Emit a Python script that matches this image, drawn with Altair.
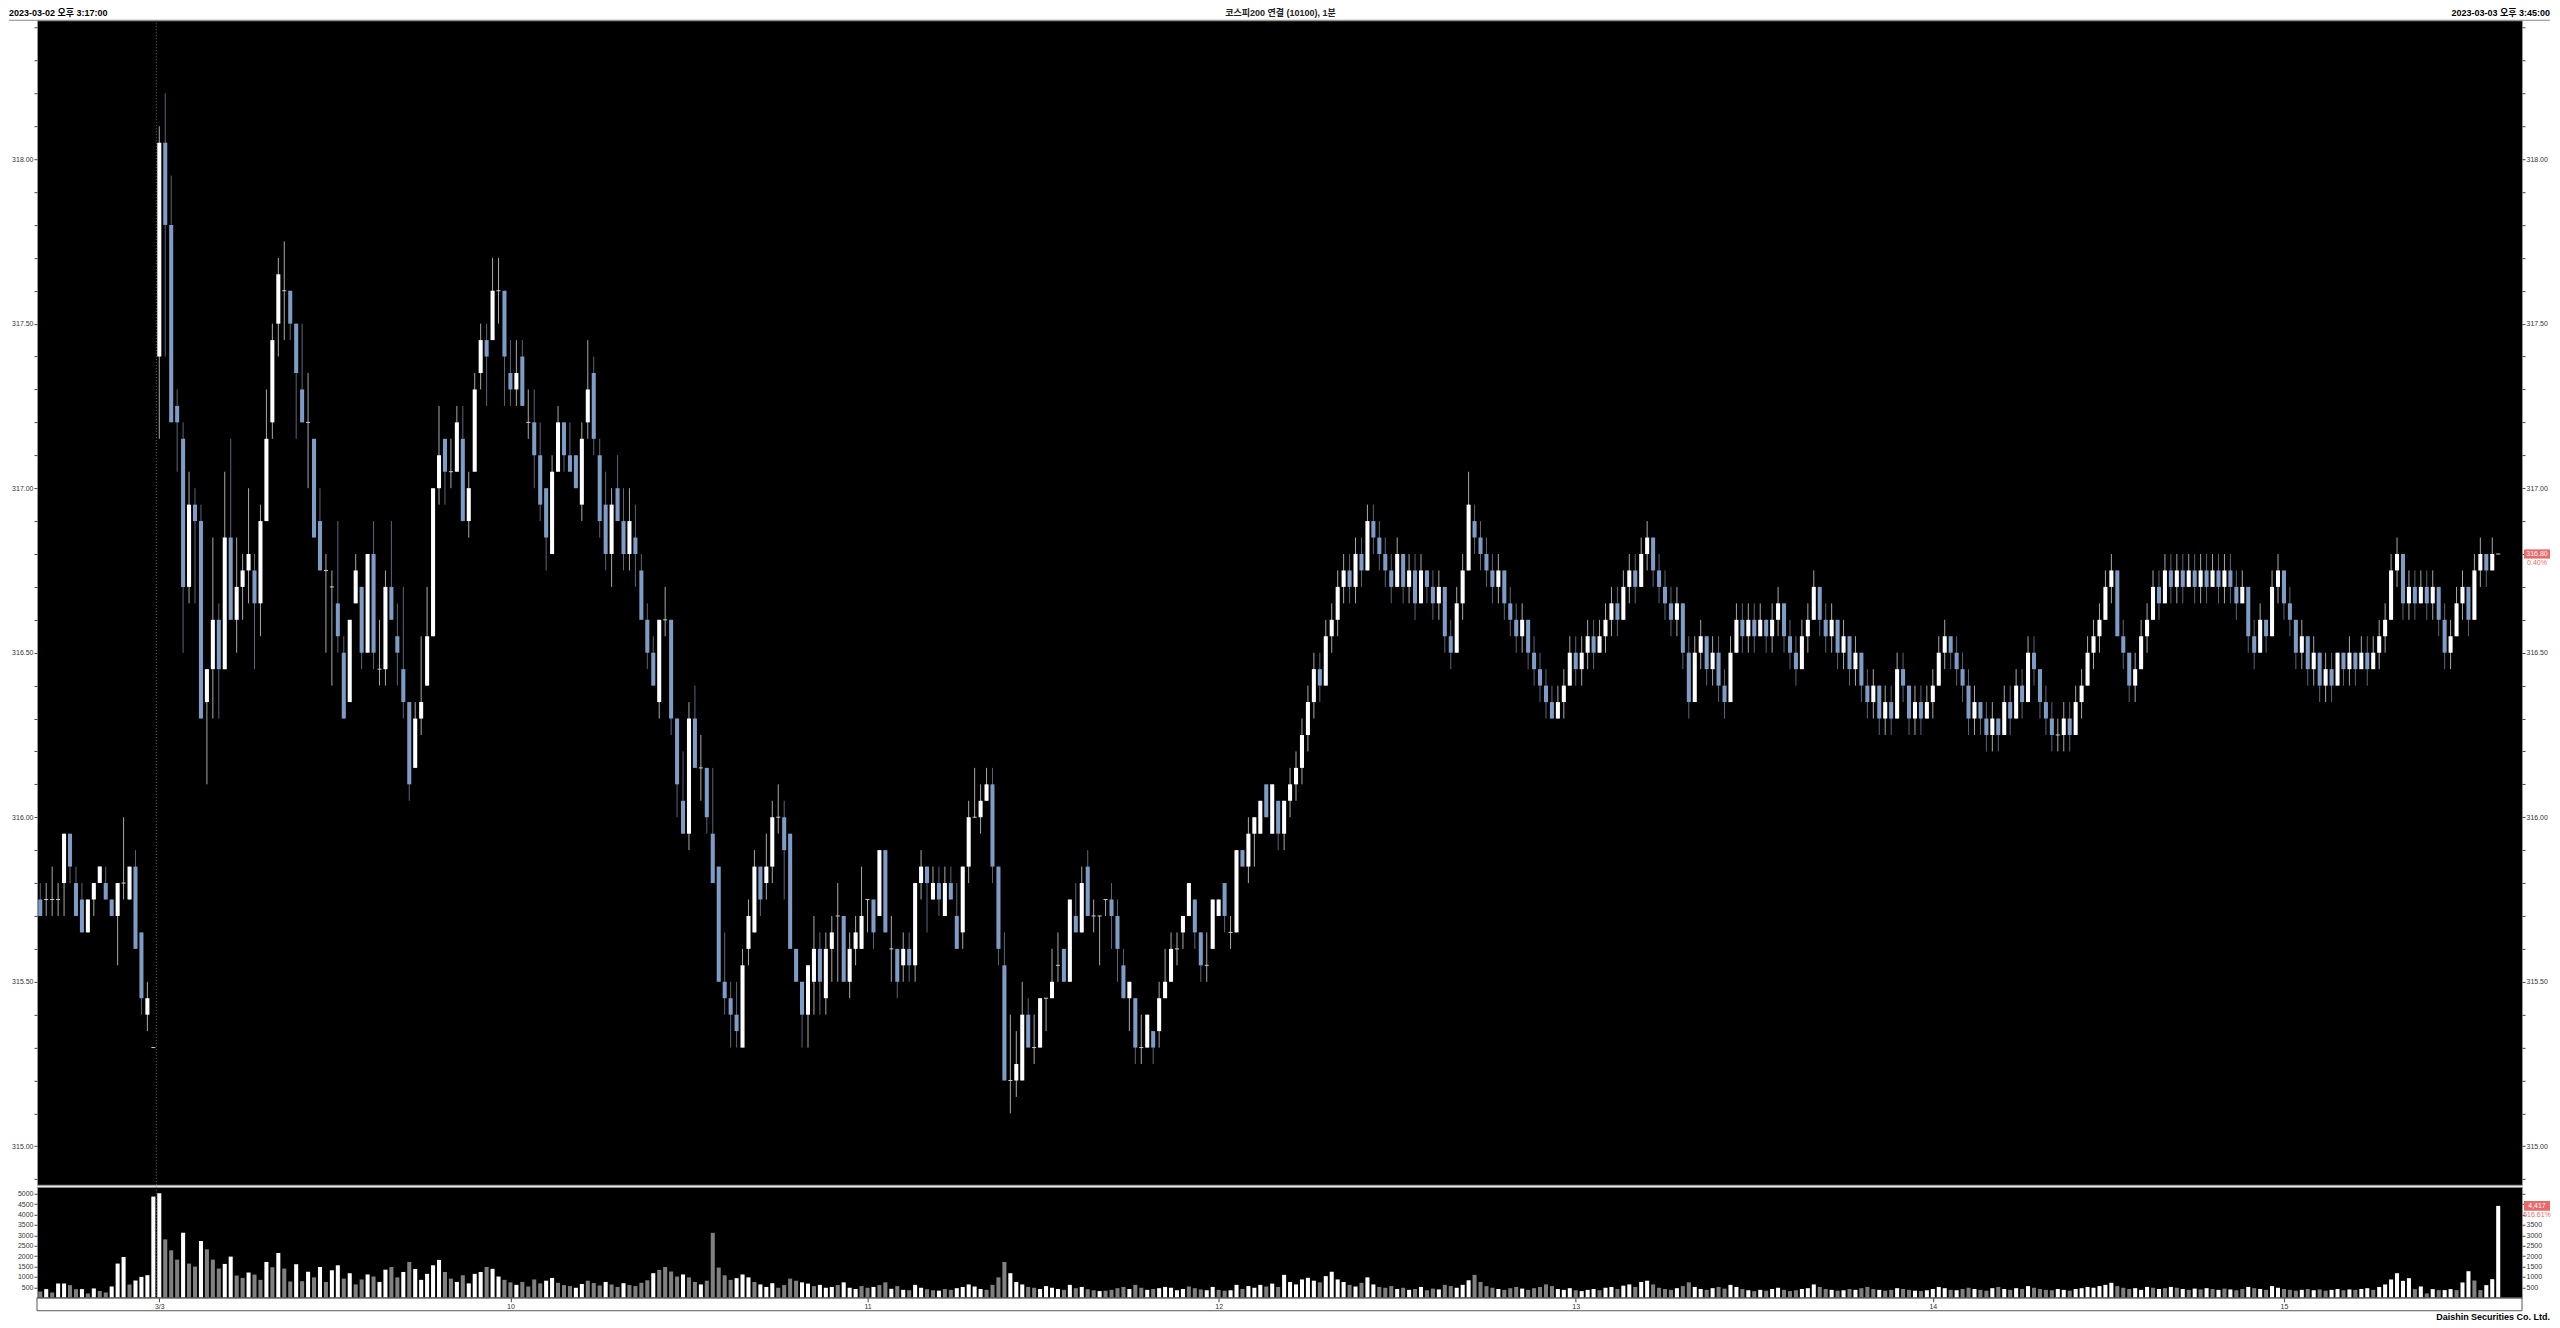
import altair as alt
import pandas as pd
import numpy as np

# ---------------- data ----------------
# bars 0..209 : open / high / low / close
opens = [
 315.75,315.75,315.75,315.75,315.80,315.95,315.80,315.75,315.65,315.75,
 315.80,315.80,315.75,315.70,315.80,315.75,315.85,315.65,315.40,315.30,
 317.40,318.05,317.80,317.25,317.15,316.70,316.95,316.90,316.35,316.45,
 316.60,316.45,316.85,316.60,316.70,316.75,316.75,316.65,316.90,317.20,
 317.50,317.60,317.60,317.50,317.30,317.20,317.15,316.90,316.75,316.70,
 316.65,316.50,316.35,316.65,316.70,316.50,316.80,316.45,316.45,316.70,
 316.55,316.45,316.35,316.15,316.30,316.40,316.55,317.00,317.15,317.05,
 317.05,317.15,316.90,317.05,317.35,317.45,317.45,317.60,317.60,317.35,
 317.30,317.40,317.20,317.20,317.10,317.00,316.80,317.05,317.20,317.10,
 317.10,316.95,317.20,317.35,317.10,316.95,316.80,317.00,316.90,316.80,
 316.85,316.75,316.60,316.50,316.35,316.60,316.60,316.30,316.05,315.95,
 316.30,316.15,316.15,315.95,315.85,315.50,315.45,315.40,315.30,315.60,
 315.65,315.85,315.80,315.85,316.00,316.00,315.95,315.60,315.50,315.40,
 315.50,315.60,315.45,315.60,315.70,315.70,315.50,315.60,315.60,315.75,
 315.75,315.70,315.90,315.60,315.60,315.55,315.60,315.55,315.80,315.85,
 315.75,315.80,315.70,315.80,315.70,315.65,315.85,316.00,316.00,316.05,
 316.10,315.85,315.55,315.20,315.20,315.20,315.40,315.30,315.30,315.45,
 315.45,315.55,315.60,315.50,315.70,315.65,315.85,315.70,315.70,315.75,
 315.75,315.70,315.55,315.45,315.45,315.30,315.30,315.35,315.35,315.45,
 315.50,315.60,315.65,315.70,315.75,315.65,315.55,315.60,315.70,315.80,
 315.65,315.65,315.90,315.85,315.95,315.95,316.10,315.95,316.05,315.95,
]
highs = [
 315.80,315.80,315.85,315.80,315.95,315.95,315.85,315.80,315.75,315.80,
 315.85,315.85,315.75,315.80,316.00,315.85,315.90,315.65,315.50,315.30,
 318.10,318.20,317.95,317.30,317.20,317.05,317.00,316.95,316.45,316.85,
 316.65,317.05,317.15,316.85,316.80,317.00,316.80,316.95,317.30,317.50,
 317.70,317.75,317.60,317.50,317.50,317.35,317.15,317.00,316.80,316.75,
 316.90,316.55,316.60,316.80,316.70,316.80,316.90,316.60,316.75,316.90,
 316.65,316.70,316.35,316.35,316.55,316.70,317.00,317.25,317.15,317.15,
 317.25,317.25,317.05,317.35,317.50,317.50,317.70,317.70,317.60,317.45,
 317.45,317.45,317.30,317.30,317.20,317.00,317.10,317.25,317.20,317.20,
 317.10,317.20,317.45,317.40,317.15,317.05,317.00,317.10,317.00,317.00,
 316.95,316.80,316.65,316.55,316.60,316.70,316.60,316.30,316.20,316.35,
 316.40,316.25,316.15,316.15,315.85,315.65,315.50,315.50,315.60,315.75,
 315.90,315.85,315.95,316.05,316.10,316.05,315.95,315.60,315.50,315.55,
 315.70,315.65,315.65,315.70,315.80,315.70,315.65,315.70,315.85,315.75,
 315.75,315.90,315.90,315.70,315.60,315.65,315.65,315.80,315.90,315.85,
 315.85,315.85,315.85,315.85,315.80,315.85,316.05,316.15,316.10,316.15,
 316.15,315.85,315.65,315.40,315.35,315.50,315.45,315.40,315.45,315.45,
 315.60,315.65,315.60,315.75,315.80,315.85,315.90,315.75,315.70,315.75,
 315.80,315.75,315.60,315.50,315.45,315.40,315.40,315.35,315.50,315.60,
 315.65,315.65,315.70,315.80,315.75,315.65,315.65,315.75,315.75,315.80,
 315.70,315.90,315.90,316.00,316.00,316.05,316.10,316.10,316.05,316.05,
]
lows = [
 315.70,315.70,315.70,315.70,315.70,315.80,315.70,315.65,315.65,315.70,
 315.80,315.75,315.70,315.55,315.75,315.75,315.60,315.40,315.35,315.30,
 317.15,317.40,317.20,317.05,316.50,316.65,316.65,316.30,316.10,316.30,
 316.30,316.45,316.60,316.50,316.60,316.65,316.45,316.55,316.90,317.15,
 317.40,317.45,317.45,317.15,317.20,317.00,316.85,316.75,316.50,316.40,
 316.50,316.30,316.35,316.65,316.45,316.50,316.45,316.40,316.40,316.60,
 316.40,316.30,316.05,316.15,316.25,316.40,316.55,316.95,316.95,317.00,
 317.05,316.90,316.85,317.05,317.30,317.25,317.45,317.50,317.25,317.25,
 317.25,317.25,317.15,317.00,316.90,316.75,316.80,317.05,317.05,317.05,
 317.00,316.90,317.15,317.10,316.85,316.75,316.70,316.90,316.75,316.75,
 316.70,316.60,316.45,316.40,316.30,316.55,316.25,316.00,315.95,315.90,
 316.15,316.05,315.95,315.80,315.50,315.40,315.30,315.30,315.30,315.55,
 315.65,315.70,315.75,315.80,315.95,315.75,315.60,315.50,315.30,315.30,
 315.40,315.40,315.40,315.50,315.50,315.50,315.45,315.55,315.60,315.65,
 315.60,315.70,315.65,315.50,315.45,315.50,315.50,315.50,315.75,315.65,
 315.75,315.70,315.70,315.75,315.60,315.60,315.80,316.00,315.95,316.05,
 315.80,315.55,315.20,315.10,315.15,315.20,315.30,315.25,315.30,315.35,
 315.45,315.50,315.50,315.50,315.65,315.65,315.70,315.65,315.55,315.70,
 315.60,315.50,315.45,315.35,315.25,315.25,315.30,315.25,315.30,315.45,
 315.50,315.55,315.60,315.70,315.60,315.50,315.50,315.60,315.70,315.65,
 315.60,315.65,315.85,315.80,315.85,315.95,316.00,315.95,315.90,315.90,
]
closes = [
 315.70,315.75,315.75,315.75,315.95,315.85,315.70,315.65,315.75,315.80,
 315.85,315.75,315.70,315.80,315.80,315.85,315.60,315.45,315.45,315.30,
 318.05,317.80,317.20,317.20,316.70,316.95,316.90,316.30,316.45,316.60,
 316.45,316.85,316.60,316.70,316.75,316.80,316.65,316.90,317.15,317.45,
 317.65,317.60,317.50,317.35,317.20,317.20,316.85,316.75,316.75,316.70,
 316.55,316.30,316.60,316.75,316.50,316.80,316.50,316.45,316.70,316.60,
 316.50,316.35,316.10,316.30,316.35,316.55,317.00,317.10,317.05,317.05,
 317.20,316.90,317.00,317.30,317.45,317.40,317.60,317.60,317.40,317.30,
 317.35,317.25,317.20,317.10,316.95,316.85,317.05,317.20,317.10,317.05,
 317.00,317.15,317.30,317.15,316.90,316.80,316.95,316.90,316.80,316.90,
 316.80,316.60,316.50,316.40,316.60,316.60,316.30,316.10,315.95,316.30,
 316.15,316.15,316.00,315.80,315.50,315.45,315.40,315.35,315.55,315.70,
 315.85,315.75,315.85,316.00,316.00,315.90,315.60,315.50,315.40,315.55,
 315.60,315.50,315.60,315.65,315.70,315.50,315.60,315.65,315.70,315.75,
 315.65,315.90,315.65,315.60,315.50,315.60,315.55,315.80,315.85,315.80,
 315.80,315.75,315.80,315.75,315.60,315.85,316.00,316.00,316.05,316.10,
 315.85,315.60,315.20,315.20,315.25,315.40,315.30,315.30,315.45,315.45,
 315.50,315.55,315.50,315.75,315.65,315.80,315.70,315.70,315.70,315.75,
 315.70,315.60,315.45,315.50,315.30,315.30,315.40,315.30,315.45,315.50,
 315.60,315.60,315.70,315.80,315.65,315.55,315.55,315.75,315.75,315.70,
 315.65,315.90,315.85,315.95,316.00,316.05,316.00,316.10,315.95,316.05,
]
# bars 210..413 (afternoon) : (open, high, low, close)
late_bars = [
 (316.05,316.15,316.00,316.10),(316.10,316.20,316.05,316.15),(316.15,316.30,316.10,316.25),
 (316.25,316.40,316.20,316.35),(316.35,316.50,316.30,316.45),(316.45,316.50,316.35,316.40),
 (316.40,316.60,316.40,316.55),(316.55,316.65,316.50,316.60),(316.60,316.75,316.55,316.70),
 (316.70,316.80,316.65,316.75),(316.75,316.80,316.65,316.70),(316.70,316.85,316.65,316.80),
 (316.80,316.85,316.70,316.75),(316.75,316.95,316.75,316.90),(316.90,316.95,316.80,316.85),
 (316.85,316.90,316.75,316.80),(316.80,316.85,316.70,316.75),(316.75,316.80,316.65,316.70),
 (316.70,316.85,316.70,316.80),(316.80,316.80,316.65,316.70),(316.70,316.80,316.65,316.75),
 (316.75,316.80,316.60,316.65),(316.65,316.80,316.65,316.75),(316.75,316.75,316.65,316.70),
 (316.70,316.75,316.60,316.65),(316.65,316.75,316.60,316.70),(316.70,316.70,316.50,316.55),
 (316.55,316.60,316.45,316.50),(316.50,316.70,316.50,316.65),(316.65,316.80,316.60,316.75),
 (316.75,317.05,316.75,316.95),(316.90,316.95,316.80,316.85),(316.85,316.90,316.75,316.80),
 (316.80,316.85,316.70,316.75),(316.75,316.80,316.65,316.70),(316.70,316.80,316.65,316.75),
 (316.75,316.75,316.60,316.65),(316.65,316.70,316.55,316.60),(316.60,316.65,316.50,316.55),
 (316.55,316.65,316.50,316.60),(316.60,316.60,316.45,316.50),(316.50,316.55,316.40,316.45),
 (316.45,316.50,316.35,316.40),(316.40,316.45,316.30,316.35),(316.35,316.40,316.30,316.30),
 (316.30,316.40,316.30,316.35),(316.35,316.45,316.30,316.40),(316.40,316.55,316.40,316.50),
 (316.50,316.55,316.40,316.45),(316.45,316.55,316.40,316.50),(316.50,316.60,316.45,316.55),
 (316.55,316.60,316.45,316.50),(316.50,316.60,316.50,316.55),(316.55,316.65,316.50,316.60),
 (316.60,316.70,316.55,316.65),(316.65,316.70,316.55,316.60),(316.60,316.75,316.60,316.70),
 (316.70,316.80,316.65,316.75),(316.75,316.80,316.65,316.70),(316.70,316.85,316.70,316.80),
 (316.80,316.90,316.75,316.85),(316.85,316.85,316.70,316.75),(316.75,316.80,316.65,316.70),
 (316.70,316.75,316.60,316.65),(316.65,316.70,316.55,316.60),(316.60,316.70,316.55,316.65),
 (316.65,316.65,316.45,316.50),(316.50,316.55,316.30,316.35),(316.35,316.55,316.35,316.50),
 (316.50,316.60,316.45,316.55),(316.55,316.55,316.40,316.45),(316.45,316.55,316.40,316.50),
 (316.50,316.55,316.35,316.40),(316.40,316.45,316.30,316.35),(316.35,316.55,316.35,316.50),
 (316.50,316.65,316.50,316.60),(316.60,316.65,316.50,316.55),(316.55,316.65,316.50,316.60),
 (316.60,316.65,316.50,316.55),(316.55,316.65,316.55,316.60),(316.60,316.60,316.50,316.55),
 (316.55,316.65,316.50,316.60),(316.60,316.70,316.55,316.65),(316.65,316.65,316.50,316.55),
 (316.55,316.60,316.45,316.50),(316.50,316.55,316.40,316.45),(316.45,316.60,316.45,316.55),
 (316.55,316.65,316.50,316.60),(316.60,316.75,316.60,316.70),(316.70,316.70,316.55,316.60),
 (316.60,316.65,316.50,316.55),(316.55,316.65,316.50,316.60),(316.60,316.60,316.45,316.50),
 (316.50,316.60,316.45,316.55),(316.55,316.55,316.40,316.45),(316.45,316.55,316.40,316.50),
 (316.50,316.50,316.35,316.40),(316.40,316.45,316.30,316.35),(316.35,316.45,316.30,316.40),
 (316.40,316.40,316.25,316.30),(316.30,316.40,316.25,316.35),(316.35,316.40,316.25,316.30),
 (316.30,316.50,316.30,316.45),(316.45,316.50,316.35,316.40),(316.40,316.40,316.25,316.30),
 (316.30,316.40,316.25,316.35),(316.35,316.40,316.25,316.30),(316.30,316.40,316.30,316.35),
 (316.35,316.45,316.30,316.40),(316.40,316.55,316.40,316.50),(316.50,316.60,316.45,316.55),
 (316.55,316.55,316.45,316.50),(316.50,316.55,316.40,316.45),(316.45,316.50,316.35,316.40),
 (316.40,316.45,316.25,316.30),(316.30,316.40,316.25,316.35),(316.35,316.35,316.25,316.30),
 (316.30,316.35,316.20,316.25),(316.25,316.35,316.20,316.30),(316.30,316.30,316.20,316.25),
 (316.25,316.40,316.25,316.35),(316.35,316.40,316.25,316.30),(316.30,316.45,316.30,316.40),
 (316.40,316.45,316.30,316.35),(316.35,316.55,316.35,316.50),(316.50,316.55,316.40,316.45),
 (316.45,316.45,316.30,316.35),(316.35,316.40,316.25,316.30),(316.30,316.35,316.20,316.25),
 (316.25,316.30,316.20,316.25),(316.25,316.35,316.20,316.30),(316.30,316.35,316.20,316.25),
 (316.25,316.40,316.25,316.35),(316.35,316.45,316.30,316.40),(316.40,316.55,316.40,316.50),
 (316.50,316.60,316.45,316.55),(316.55,316.65,316.50,316.60),(316.60,316.75,316.60,316.70),
 (316.70,316.80,316.65,316.75),(316.75,316.75,316.55,316.55),(316.55,316.60,316.45,316.50),
 (316.50,316.50,316.35,316.40),(316.40,316.50,316.35,316.45),(316.45,316.60,316.45,316.55),
 (316.55,316.65,316.50,316.60),(316.60,316.75,316.60,316.70),(316.70,316.75,316.60,316.65),
 (316.65,316.80,316.65,316.75),(316.75,316.80,316.65,316.70),(316.70,316.80,316.65,316.75),
 (316.75,316.80,316.65,316.70),(316.70,316.80,316.70,316.75),(316.75,316.80,316.65,316.70),
 (316.70,316.80,316.65,316.75),(316.75,316.80,316.65,316.70),(316.70,316.80,316.70,316.75),
 (316.75,316.80,316.65,316.70),(316.70,316.80,316.65,316.75),(316.75,316.80,316.65,316.70),
 (316.70,316.75,316.60,316.65),(316.65,316.75,316.65,316.70),(316.70,316.70,316.50,316.55),
 (316.55,316.60,316.45,316.50),(316.50,316.65,316.50,316.60),(316.60,316.60,316.50,316.55),
 (316.55,316.75,316.55,316.70),(316.70,316.80,316.65,316.75),(316.75,316.75,316.60,316.65),
 (316.65,316.70,316.55,316.60),(316.60,316.60,316.45,316.50),(316.50,316.60,316.45,316.55),
 (316.55,316.55,316.40,316.45),(316.45,316.55,316.40,316.50),(316.50,316.50,316.35,316.40),
 (316.40,316.50,316.35,316.45),(316.45,316.50,316.35,316.40),(316.40,316.50,316.40,316.50),
 (316.50,316.50,316.40,316.45),(316.45,316.55,316.40,316.50),(316.50,316.50,316.40,316.45),
 (316.45,316.55,316.45,316.50),(316.50,316.55,316.40,316.45),(316.45,316.55,316.45,316.50),
 (316.50,316.60,316.45,316.55),(316.55,316.65,316.50,316.60),(316.60,316.80,316.60,316.75),
 (316.75,316.85,316.70,316.80),(316.80,316.80,316.60,316.65),(316.65,316.75,316.60,316.70),
 (316.70,316.75,316.60,316.65),(316.65,316.75,316.65,316.70),(316.70,316.75,316.60,316.65),
 (316.65,316.75,316.60,316.70),(316.70,316.70,316.55,316.60),(316.60,316.65,316.45,316.50),
 (316.50,316.60,316.45,316.55),(316.55,316.70,316.55,316.65),(316.65,316.75,316.60,316.70),
 (316.70,316.70,316.55,316.60),(316.60,316.80,316.60,316.75),(316.75,316.85,316.70,316.80),
 (316.80,316.80,316.70,316.75),(316.75,316.85,316.75,316.80),(316.80,316.80,316.80,316.80),
]
for o_, h_, l_, c_ in late_bars:
    opens.append(o_); highs.append(h_); lows.append(l_); closes.append(c_)

volumes = [
 300,415,255,686,686,606,415,415,207,447,
 319,255,542,1643,1962,638,829,1005,1085,4864,
 5024,2807,2281,1834,3126,1643,1499,2727,2329,1834,
 1404,1627,1978,1069,957,1212,1116,861,1722,1467,
 2153,1404,781,1611,797,1250,980,1480,760,1320,
 1560,920,1180,640,880,1120,1020,760,1350,1480,
 980,1240,1720,1380,860,1150,1560,1820,1240,920,
 760,1080,690,1150,1240,1480,1390,1020,860,740,
 620,760,540,880,690,820,950,720,610,560,
 480,660,820,710,590,760,640,520,700,610,
 560,720,840,1180,1340,1480,1260,1020,1120,980,
 760,640,820,3120,1450,1080,860,940,1120,980,
 760,640,520,700,480,610,920,820,740,680,
 560,620,480,520,610,740,480,420,560,480,
 520,610,740,430,560,380,360,620,480,410,
 360,340,420,380,460,520,640,540,420,380,
 620,980,1720,1180,760,640,520,480,420,560,
 480,420,380,620,460,520,410,360,320,340,
 380,460,520,420,620,480,380,420,460,520,
 480,360,420,540,460,400,360,520,380,340,
 360,620,420,560,480,620,540,680,520,1100,
 760,640,880,960,820,740,1040,1250,880,760,
 620,540,720,980,640,520,480,560,420,480,
 380,420,520,360,440,400,620,560,480,620,
 840,1100,760,560,480,420,380,460,520,440,
 380,460,520,640,560,420,380,460,360,320,
 380,420,360,480,520,420,580,640,520,760,
 820,640,480,420,380,460,560,740,520,420,
 380,460,520,440,620,520,420,360,320,380,
 340,420,480,380,320,360,420,460,640,520,
 420,380,340,360,420,380,460,520,420,380,
 340,380,460,420,380,340,320,360,420,520,
 460,380,360,420,480,420,380,340,460,520,
 420,380,460,420,560,480,420,380,360,420,
 380,340,420,460,520,480,560,620,720,560,
 480,420,460,380,520,480,420,460,520,480,
 420,380,440,400,460,420,380,440,400,360,
 420,520,460,420,380,560,480,420,380,340,
 380,420,360,400,340,380,420,360,400,380,
 420,460,380,520,640,880,1180,813,941,415,
 542,207,415,367,367,415,367,734,1276,829,
 367,606,893,4417,
]
vol_up = [
 0,1,0,1,1,0,0,1,0,1,
 0,0,1,1,1,0,1,1,1,1,
 1,0,0,0,1,0,0,1,0,0,
 0,1,1,0,0,1,0,0,1,0,
 1,0,0,1,0,1,0,1,0,1,
 1,0,1,0,0,1,0,1,1,0,
 0,1,0,1,1,1,1,1,0,0,
 1,0,1,1,1,0,1,1,0,0,
 1,0,0,0,0,1,1,0,0,0,
 1,1,0,0,0,1,0,0,1,0,
 0,0,0,1,0,0,0,0,1,0,
 0,1,0,0,0,0,0,1,1,1,
 0,1,1,1,0,0,0,0,1,1,
 0,1,1,1,0,1,1,1,0,0,
 1,0,0,1,0,1,0,1,1,0,
 0,1,0,0,1,1,1,1,1,0,
 0,0,0,1,1,1,0,0,1,1,
 1,1,0,1,0,1,0,0,1,0,
 0,0,0,1,0,0,1,0,1,1,
 1,1,1,0,0,0,1,1,0,0,
 1,1,0,1,1,1,0,1,0,1,
 1,1,1,1,1,0,1,1,1,1,
 0,1,0,1,1,0,0,0,1,0,
 1,0,1,0,0,1,0,0,1,1,
 1,0,0,0,0,1,0,0,0,1,
 0,0,0,0,0,1,1,1,0,1,
 1,1,0,1,1,0,1,1,0,1,
 1,0,0,0,0,1,0,0,1,1,
 0,1,0,0,1,1,0,1,0,1,
 0,1,1,0,0,0,1,1,1,0,
 0,1,0,1,0,1,0,0,0,1,
 0,0,1,0,0,1,0,1,1,1,
 1,0,1,0,0,1,0,0,1,0,
 1,0,1,0,1,0,0,0,0,1,
 1,0,1,1,1,1,1,1,1,0,
 0,0,1,1,1,0,1,0,1,0,
 1,0,1,0,1,0,1,0,1,0,
 0,1,0,1,0,1,1,0,0,0,
 1,0,1,0,0,1,1,0,1,0,
 1,1,0,1,1,1,1,1,1,0,
 1,0,1,0,1,1,0,1,1,0,
 0,1,1,1,
]

hour_idx = [20, 79, 139, 198, 258, 318, 377]
hour_lbl = ["3/3", "10", "11", "12", "13", "14", "15"]
day_breaks = [19.5]

header_left = "2023-03-02 오후 3:17:00"
header_center = "코스피200 연결 (10100), 1분"
header_right = "2023-03-03 오후 3:45:00"
footer = "Daishin Securities Co. Ltd."
price_change = "0.40%"
vol_change = "516.61%"

# ---------------- layout / style ----------------
PW, PH, VH = 2486, 1165, 111
LEFT_EXT, RIGHT_EXT = 28, 28
FONT = "Liberation Sans"
KFONT = "Liberation Sans, Noto Sans CJK KR"
UP_BODY, DOWN_BODY, FLAT = "#ffffff", "#7d9cc6", "#cfcfcf"
UP_WICK, DOWN_WICK = "#a9a9a9", "#586679"
RED = "#ea6a6a"

n = len(closes)
df = pd.DataFrame({"i": np.arange(n), "o": opens, "h": highs, "l": lows, "c": closes})
df["x0"] = df["i"] - 0.34
df["x1"] = df["i"] + 0.34
df["body"] = np.where(df.c > df.o, UP_BODY, np.where(df.c < df.o, DOWN_BODY, FLAT))
df["wick"] = np.where(df.c >= df.o, UP_WICK, DOWN_WICK)

nv = len(volumes)
vdf = pd.DataFrame({"i": np.arange(nv), "v": volumes, "up": vol_up[:nv]})
vdf["x0"] = vdf["i"] - 0.34
vdf["x1"] = vdf["i"] + 0.34
vdf["z"] = 0
vdf["col"] = np.where(vdf["up"] == 1, "#ffffff", "#808080")

xs = alt.Scale(domain=[-0.55, 417.0], nice=False, zero=False)
ys = alt.Scale(domain=[314.883, 318.422], nice=False, zero=False)
vs = alt.Scale(domain=[0, 5335], nice=False, zero=False)

price_ticks = [round(314.9 + 0.1 * k, 1) for k in range(36)]
price_lbl = "(abs(datum.value*2 - round(datum.value*2)) < 0.01) ? format(datum.value, '.2f') : ''"
vol_ticks = [500 * k for k in range(1, 11)]
vol_lbl_left = "format(datum.value, 'd')"
vol_lbl_right = f"abs(datum.value - {volumes[-1]}) < 700 ? '' : format(datum.value, 'd')"

def yaxis(orient, values, expr=None):
    kw = dict(orient=orient, values=values, tickSize=3, tickColor="#444",
              labelFont=FONT, labelFontSize=7, labelColor="#333", labelPadding=1,
              labelOverlap=False, domain=False, grid=False, title=None,
              minExtent=LEFT_EXT if orient == "left" else RIGHT_EXT,
              maxExtent=LEFT_EXT if orient == "left" else RIGHT_EXT)
    if expr:
        kw["labelExpr"] = expr
    return alt.Axis(**kw)

x_expr = ""
for k, lab in zip(hour_idx, hour_lbl):
    x_expr += f"datum.value == {k} ? '{lab}' : "
x_expr += "''"
vx_axis = alt.Axis(values=hour_idx, labelExpr=x_expr, tickSize=4, tickColor="#444",
                   labelFont=FONT, labelFontSize=7, labelColor="#333", labelPadding=1,
                   labelOverlap=False, labelFlush=False, domain=False, grid=False, title=None)

ann = pd.DataFrame({"a": [0]})

# ---------------- price pane ----------------
base = alt.Chart(df)
wicks = base.mark_rule(strokeWidth=1).encode(
    x=alt.X("i:Q", scale=xs, axis=None),
    y=alt.Y("l:Q", scale=ys, axis=yaxis("left", price_ticks, price_lbl)),
    y2="h:Q",
    color=alt.Color("wick:N", scale=None),
)
bodies = base.transform_filter("datum.o != datum.c").mark_bar().encode(
    x=alt.X("x0:Q", scale=xs, axis=None), x2="x1:Q",
    y=alt.Y("o:Q", scale=ys, axis=None), y2="c:Q",
    color=alt.Color("body:N", scale=None),
)
flats = base.transform_filter("datum.o == datum.c").mark_rule(strokeWidth=1).encode(
    x=alt.X("x0:Q", scale=xs, axis=None), x2="x1:Q",
    y=alt.Y("c:Q", scale=ys, axis=None),
    color=alt.Color("body:N", scale=None),
)
right_axis = base.mark_rule(opacity=0).encode(
    x=alt.X("i:Q", scale=xs, axis=None),
    y=alt.Y("c:Q", scale=ys, axis=yaxis("right", price_ticks, price_lbl)),
)
day_rule_p = alt.Chart(pd.DataFrame({"b": day_breaks})).mark_rule(
    color="#6a6a6a", strokeDash=[1, 2], strokeWidth=1
).encode(x=alt.X("b:Q", scale=xs, axis=None))

last = base.transform_filter(f"datum.i == {n - 1}")
p_box = last.transform_calculate(y0="datum.c - 0.014", y1="datum.c + 0.014").mark_rect(color=RED).encode(
    x=alt.value(PW + 2), x2=alt.value(PW + RIGHT_EXT),
    y=alt.Y("y0:Q", scale=ys, axis=None), y2="y1:Q",
)
p_txt = last.mark_text(color="white", font=FONT, fontSize=7, align="center", baseline="middle").encode(
    x=alt.value(PW + 2 + (RIGHT_EXT - 2) / 2), y=alt.Y("c:Q", scale=ys, axis=None),
    text=alt.Text("c:Q", format=".2f"),
)
p_pct = last.mark_text(color=RED, font=FONT, fontSize=7, align="center", baseline="middle", dy=9,
                       text=price_change).encode(
    x=alt.value(PW + 2 + (RIGHT_EXT - 2) / 2), y=alt.Y("c:Q", scale=ys, axis=None),
)

hdr = alt.Chart(ann)
h_left = hdr.mark_text(text=header_left, align="left", baseline="middle", font=KFONT,
                       fontSize=9, fontWeight="bold", color="black").encode(
    x=alt.value(-LEFT_EXT), y=alt.value(-7))
h_center = hdr.mark_text(text=header_center, align="center", baseline="middle", font=KFONT,
                         fontSize=9, fontWeight="bold", color="#222").encode(
    x=alt.value(1244), y=alt.value(-7))
h_right = hdr.mark_text(text=header_right, align="right", baseline="middle", font=KFONT,
                        fontSize=9, fontWeight="bold", color="black").encode(
    x=alt.value(PW + RIGHT_EXT), y=alt.value(-7))
h_rule = hdr.mark_rule(color="#8a8a8a", strokeWidth=1).encode(
    x=alt.value(-LEFT_EXT), x2=alt.value(PW + RIGHT_EXT), y=alt.value(0))

price = alt.layer(
    day_rule_p, wicks, bodies, flats, right_axis, p_box, p_txt, p_pct,
    h_rule, h_left, h_center, h_right,
).resolve_axis(y="independent").properties(width=PW, height=PH)

# ---------------- volume pane ----------------
vbase = alt.Chart(vdf)
vbars = vbase.mark_bar().encode(
    x=alt.X("x0:Q", scale=xs, axis=vx_axis),
    x2="x1:Q",
    y=alt.Y("v:Q", scale=vs, axis=yaxis("left", vol_ticks, vol_lbl_left)),
    y2="z:Q",
    color=alt.Color("col:N", scale=None),
)
vright = vbase.mark_rule(opacity=0).encode(
    x=alt.X("i:Q", scale=xs, axis=vx_axis),
    y=alt.Y("v:Q", scale=vs, axis=yaxis("right", vol_ticks, vol_lbl_right)),
)
day_rule_v = alt.Chart(pd.DataFrame({"b": day_breaks})).mark_rule(
    color="#6a6a6a", strokeDash=[1, 2], strokeWidth=1
).encode(x=alt.X("b:Q", scale=xs, axis=vx_axis))

vlast = vbase.transform_filter(f"datum.i == {nv - 1}")
v_box = vlast.transform_calculate(y0="datum.v - 235", y1="datum.v + 235").mark_rect(color=RED).encode(
    x=alt.value(PW + 2), x2=alt.value(PW + RIGHT_EXT),
    y=alt.Y("y0:Q", scale=vs, axis=None), y2="y1:Q",
)
v_txt = vlast.mark_text(color="white", font=FONT, fontSize=7, align="center", baseline="middle").encode(
    x=alt.value(PW + 2 + (RIGHT_EXT - 2) / 2), y=alt.Y("v:Q", scale=vs, axis=None),
    text=alt.Text("v:Q", format=",d"),
)
v_pct = vlast.mark_text(color=RED, font=FONT, fontSize=7, align="center", baseline="middle", dy=9,
                        text=vol_change).encode(
    x=alt.value(PW + 2 + (RIGHT_EXT - 2) / 2), y=alt.Y("v:Q", scale=vs, axis=None),
)
foot = alt.Chart(ann)
band = foot.mark_rect(fillOpacity=0, stroke="#555", strokeWidth=1).encode(
    x=alt.value(0), x2=alt.value(PW), y=alt.value(VH), y2=alt.value(VH + 13))
f_txt = foot.mark_text(text=footer, align="right", baseline="middle", font=FONT, fontSize=9,
                       fontWeight="bold", color="black").encode(
    x=alt.value(PW + RIGHT_EXT), y=alt.value(VH + 19))

volume = alt.layer(
    day_rule_v, vbars, vright, v_box, v_txt, v_pct, band, f_txt
).resolve_axis(y="independent").properties(width=PW, height=VH)

chart = alt.vconcat(price, volume, spacing=0).properties(
    padding={"left": 0, "top": 0, "right": 0, "bottom": 0}, background="white"
).configure_view(fill="black", stroke="#9a9a9a", strokeWidth=1)

chart.save("out.html", embed_options={"renderer": "svg", "actions": False})
